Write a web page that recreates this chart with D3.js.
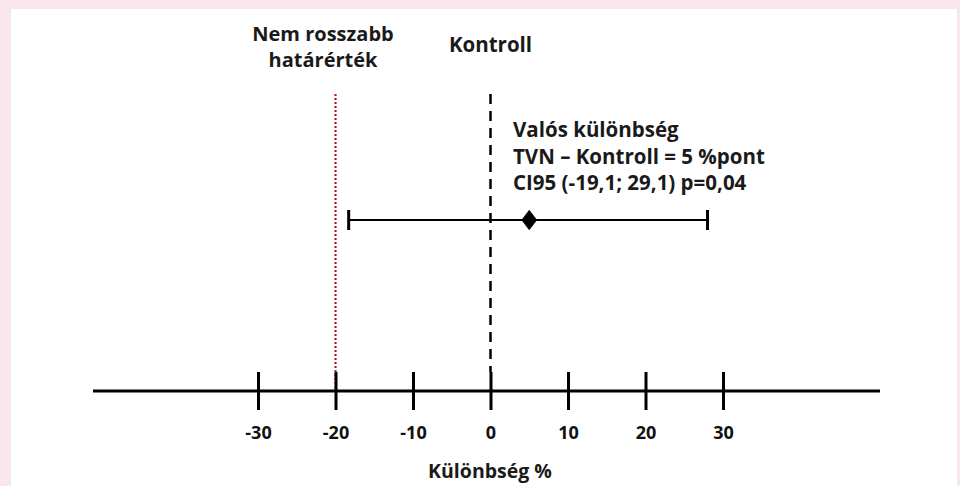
<!DOCTYPE html>
<html><head><meta charset="utf-8">
<script src="https://cdn.jsdelivr.net/npm/d3@7"></script>
<style>
html,body{margin:0;padding:0;background:#f9e6ec;}
svg{display:block;}
</style></head>
<body>
<svg id="c" width="960" height="486"></svg>
<script>
const tickValues = [-30, -20, -10, 0, 10, 20, 30];
const axisTitle = "Különbség %";
const marginLabel = ["Nem rosszabb", "határérték"];
const controlLabel = "Kontroll";
const annotation = ["Valós különbség", "TVN – Kontroll = 5 %pont", "CI95 (-19,1; 29,1) p=0,04"];
const nonInferiorityMargin = -20;
const controlValue = 0;
const estimate = [5];
const ciLow = [-18.3];
const ciHigh = [28];

const svg = d3.select("#c");
const font = "'Open Sans', sans-serif";
svg.append("rect").attr("x", 11).attr("y", 9).attr("width", 946).attr("height", 477).attr("fill", "#fff");

const x = d3.scaleLinear().domain([-30, 30]).range([258, 723]);
const axisY = 391;

// axis line
svg.append("line").attr("x1", 93).attr("x2", 880).attr("y1", axisY).attr("y2", axisY)
  .attr("stroke", "#000").attr("stroke-width", 3);

// red dotted margin line
svg.append("line").attr("x1", x(nonInferiorityMargin)).attr("x2", x(nonInferiorityMargin))
  .attr("y1", 94).attr("y2", axisY).attr("stroke", "#b01c28").attr("stroke-width", 2.2)
  .attr("stroke-dasharray", "2,2");

// ticks via d3 axis
const axis = d3.axisBottom(x).tickValues(tickValues).tickSize(0).tickFormat(d => String(d));
const g = svg.append("g").attr("transform", `translate(0,${axisY})`).call(axis);
g.select(".domain").remove();
g.selectAll(".tick line").remove();
g.selectAll(".tick").append("line").attr("y1", -19).attr("y2", 19).attr("stroke", "#000").attr("stroke-width", 3);
g.selectAll(".tick text").attr("y", 48).attr("dy", 0).attr("font-family", font).attr("font-weight", "bold")
  .attr("font-size", 18).attr("fill", "#111");

// control dashed line
svg.append("line").attr("x1", x(controlValue)).attr("x2", x(controlValue))
  .attr("y1", 94).attr("y2", 372).attr("stroke", "#000").attr("stroke-width", 2.5)
  .attr("stroke-dasharray", "10,7");

// CI
const ciY = 220;
svg.append("line").attr("x1", x(ciLow[0])).attr("x2", x(ciHigh[0])).attr("y1", ciY).attr("y2", ciY)
  .attr("stroke", "#000").attr("stroke-width", 2);
[ciLow[0], ciHigh[0]].forEach(v => {
  svg.append("line").attr("x1", x(v)).attr("x2", x(v)).attr("y1", ciY - 10).attr("y2", ciY + 10)
    .attr("stroke", "#000").attr("stroke-width", 3);
});
svg.append("path").attr("d", d3.symbol().type(d3.symbolDiamond).size(160)())
  .attr("transform", `translate(${x(estimate[0])},${ciY}) scale(1.15,0.87)`).attr("fill", "#000");

// texts
const txt = (s, xx, yy, anchor, size) => svg.append("text").text(s).attr("x", xx).attr("y", yy)
  .attr("text-anchor", anchor).attr("font-family", font).attr("font-weight", "bold")
  .attr("font-size", size).attr("fill", "#1a1a1a");
txt(marginLabel[0], 323, 41, "middle", 20);
txt(marginLabel[1], 323, 67, "middle", 20);
txt(controlLabel, x(controlValue), 52, "middle", 20.5);
annotation.forEach((s, i) => txt(s, 513, 137 + i * 26.5, "start", 20.5));
txt(axisTitle, 490, 478, "middle", 19.5);
</script>
</body></html>
